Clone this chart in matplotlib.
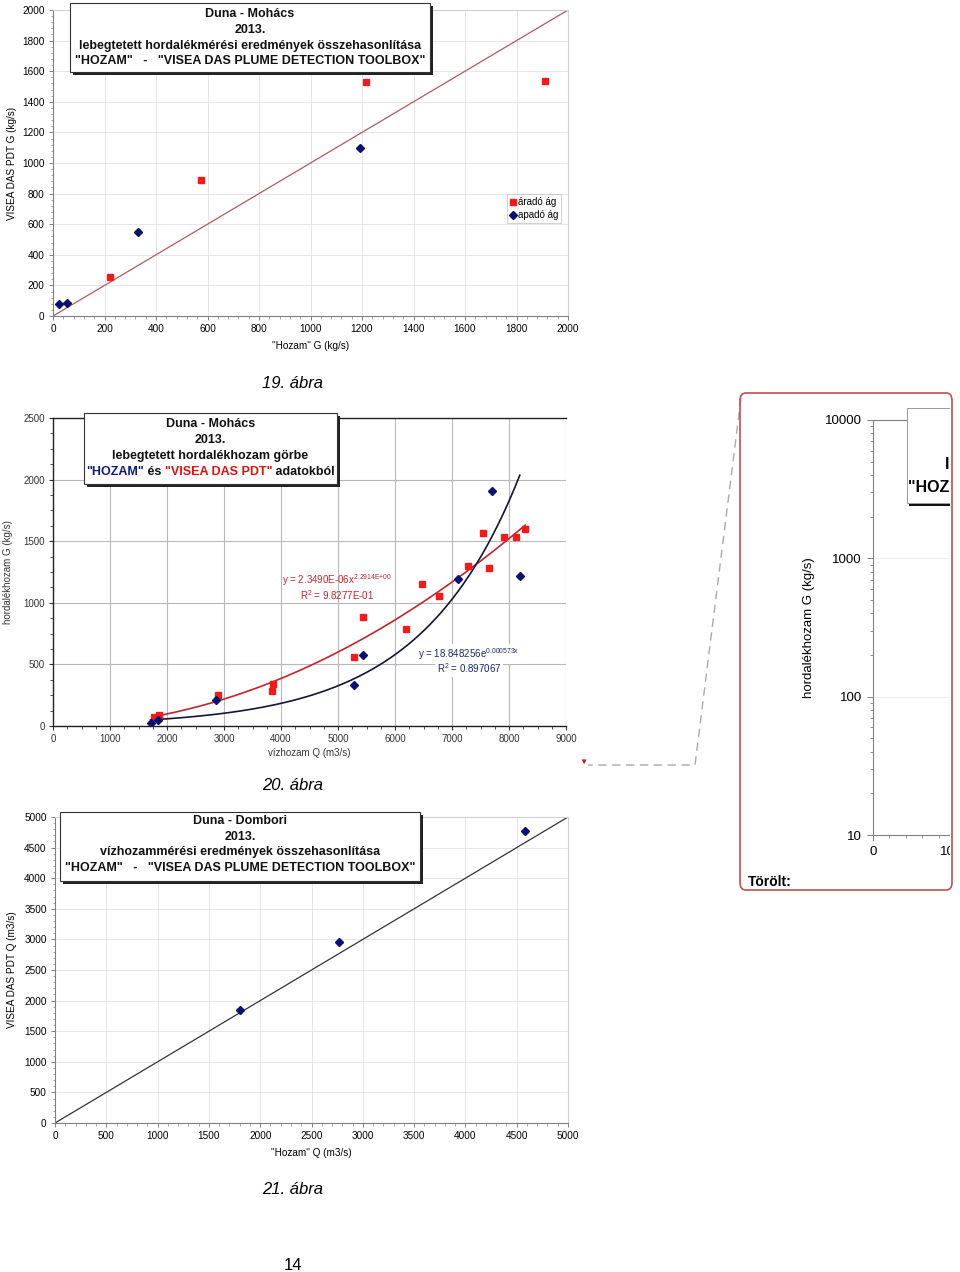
import numpy as np
import matplotlib
matplotlib.use('Agg')
import matplotlib.pyplot as plt
from matplotlib.patches import Rectangle, FancyBboxPatch
from matplotlib.lines import Line2D
from matplotlib.ticker import AutoMinorLocator, FixedLocator, LogLocator, NullFormatter
from matplotlib.offsetbox import TextArea, HPacker, AnnotationBbox

plt.rcParams['font.family'] = ['Liberation Sans', 'DejaVu Sans']
plt.rcParams['mathtext.fontset'] = 'custom'
plt.rcParams['mathtext.rm'] = 'Liberation Sans'
plt.rcParams['mathtext.it'] = 'Liberation Sans'
plt.rcParams['mathtext.default'] = 'regular'

# --- 19. ábra: Duna - Mohács, lebegtetett hordalék (kg/s)
mohacs_arado_hozam = [221, 574, 1217, 1909]
mohacs_arado_visea = [256, 886, 1531, 1533]
mohacs_apado_hozam = [22, 55, 332, 1194]
mohacs_apado_visea = [76, 83, 552, 1099]

# --- 20. ábra: hordalékhozam görbe, Q (m3/s) - G (kg/s)
gorbe_visea_q = [1770, 1863, 2893, 3857, 3844, 5284, 5436, 6195, 6473, 6770,
                 7272, 7536, 7649, 7913, 8124, 8283]
gorbe_visea_g = [73, 89, 251, 340, 284, 559, 886, 784, 1154, 1059,
                 1297, 1565, 1281, 1532, 1532, 1603]
gorbe_hozam_q = [1711, 1836, 2860, 5277, 5436, 7100, 7701, 8190]
gorbe_hozam_g = [24, 51, 214, 330, 573, 1192, 1908, 1216]

# --- 21. ábra: Duna - Dombori, vízhozam (m3/s)
dombori_hozam = [1805, 2770, 4582]
dombori_visea = [1848, 2951, 4766]

W, H = 960, 1272
fig = plt.figure(figsize=(W / 100, H / 100), dpi=100)

RED = '#ee1c1c'
NAVY = '#0a1070'
AXC = '#808080'


def add_ax(l, t, r, b):
    return fig.add_axes([l / W, 1 - b / H, (r - l) / W, (b - t) / H])


def fx(x):
    return x / W


def fy(y):
    return 1 - y / H


def title_box(l, t, r, b, lines, ys, size=9, shadow=3):
    fig.patches.append(Rectangle((fx(l + shadow), fy(b + shadow)), (r - l) / W, (b - t) / H,
                                 transform=fig.transFigure, facecolor='#222222',
                                 edgecolor='none', zorder=10))
    fig.patches.append(Rectangle((fx(l), fy(b)), (r - l) / W, (b - t) / H,
                                 transform=fig.transFigure, facecolor='white',
                                 edgecolor='#333333', lw=0.8, zorder=11))
    cx = (l + r) / 2
    for txt, y in zip(lines, ys):
        if isinstance(txt, list):
            parts = [TextArea(s, textprops=dict(color=c, fontsize=size, fontweight='bold'))
                     for s, c in txt]
            pack = HPacker(children=parts, sep=0, pad=0, align='baseline')
            ab = AnnotationBbox(pack, (fx(cx), fy(y)), xycoords='figure fraction',
                                frameon=False, box_alignment=(0.5, 0.5), pad=0)
            ab.set_zorder(12)
            fig.add_artist(ab)
        else:
            fig.text(fx(cx), fy(y), txt, ha='center', va='center', fontsize=size,
                     fontweight='bold', color='#111111', zorder=12)


def excel_axes(ax, xmax, ymax, xstep, ystep, grid='#e2e2e2', border='#cfcfcf'):
    ax.set_xlim(0, xmax)
    ax.set_ylim(0, ymax)
    ax.set_xticks(np.arange(0, xmax + 1, xstep))
    ax.set_yticks(np.arange(0, ymax + 1, ystep))
    ax.xaxis.set_minor_locator(AutoMinorLocator(5))
    ax.yaxis.set_minor_locator(AutoMinorLocator(5))
    ax.tick_params(which='major', length=3, width=0.7, color=AXC, labelsize=7.2, pad=3)
    ax.tick_params(which='minor', length=1.8, width=0.5, color=AXC)
    ax.grid(True, which='major', color=grid, lw=0.6)
    ax.set_axisbelow(True)
    for s in ['left', 'bottom']:
        ax.spines[s].set_color(AXC)
        ax.spines[s].set_linewidth(0.8)
    for s in ['top', 'right']:
        ax.spines[s].set_color(border)
        ax.spines[s].set_linewidth(0.8)


# ---------------- 19. ábra
ax1 = add_ax(53, 10, 568, 316)
excel_axes(ax1, 2000, 2000, 200, 200)
ax1.plot([0, 2000], [0, 2000], color='#b25a5e', lw=0.9, zorder=2)
ax1.plot(mohacs_arado_hozam, mohacs_arado_visea, 's', color=RED, ms=5, zorder=3,
         label='áradó ág')
ax1.plot(mohacs_apado_hozam, mohacs_apado_visea, 'D', color=NAVY, ms=4, zorder=3,
         label='apadó ág')
ax1.set_xlabel('"Hozam" G (kg/s)', fontsize=7.2, labelpad=5)
ax1.set_ylabel('VISEA DAS PDT G (kg/s)', fontsize=7.2)
ax1.yaxis.set_label_coords((17 - 53) / 515, 0.5)
leg = ax1.legend(loc='upper left', bbox_to_anchor=((507 - 53) / 515, 1 - (194 - 10) / 306),
                 fontsize=7, frameon=True, fancybox=False, handlelength=0.6,
                 handletextpad=0.25, borderpad=0.3, labelspacing=0.35, borderaxespad=0)
leg.get_frame().set_edgecolor('#bbbbbb')
leg.get_frame().set_linewidth(0.6)
title_box(70, 3, 430, 72,
          ['Duna - Mohács', '2013.', 'lebegtetett hordalékmérési eredmények összehasonlítása',
           '"HOZAM"   -   "VISEA DAS PLUME DETECTION TOOLBOX"'],
          [14, 30, 45.5, 61])
fig.text(fx(293), fy(383), '19. ábra', ha='center', va='center', fontsize=12, style='italic')

# ---------------- 20. ábra
ax2 = add_ax(53, 418, 566, 726)
ax2.set_xlim(0, 9000)
ax2.set_ylim(0, 2500)
ax2.set_xticks(np.arange(0, 9001, 1000))
ax2.set_yticks(np.arange(0, 2501, 500))
ax2.xaxis.set_minor_locator(AutoMinorLocator(4))
ax2.yaxis.set_minor_locator(AutoMinorLocator(4))
ax2.tick_params(which='major', length=3, width=0.8, color='#333333', labelsize=7,
                labelcolor='#333333', pad=3)
ax2.tick_params(which='minor', length=2, width=0.6, color='#333333')
ax2.grid(True, which='major', color='#b8b8b8', lw=0.8)
ax2.set_axisbelow(True)
for s in ['left', 'bottom', 'top']:
    ax2.spines[s].set_color('#222222')
    ax2.spines[s].set_linewidth(1.0)
ax2.spines['right'].set_visible(False)

# trendlines fitted from the data (power for VISEA, exponential for HOZAM)
vq = np.array(gorbe_visea_q, float)
vg = np.array(gorbe_visea_g, float)
b_pow, a_pow = np.polyfit(np.log(vq), np.log(vg), 1)
xr = np.linspace(vq.min(), vq.max(), 200)
ax2.plot(xr, np.exp(a_pow) * xr ** b_pow, color='#c0262c', lw=1.2, zorder=2)
hq = np.array(gorbe_hozam_q, float)
hg = np.array(gorbe_hozam_g, float)
b_exp, a_exp = np.polyfit(hq, np.log(hg), 1)
xb = np.linspace(hq.min(), hq.max(), 200)
ax2.plot(xb, np.exp(a_exp) * np.exp(b_exp * xb), color='#151535', lw=1.2, zorder=2)

ax2.plot(gorbe_visea_q, gorbe_visea_g, 's', color=RED, ms=5, zorder=3)
ax2.plot(gorbe_hozam_q, gorbe_hozam_g, 'D', color=NAVY, ms=3.8, zorder=3)
ax2.text(4980, 1185, 'y = 2.3490E-06x$^{2.2914E{+}00}$', fontsize=7, color='#c0262c',
         ha='center', va='center', zorder=4)
ax2.text(4980, 1063, 'R$^2$ = 9.8277E-01', fontsize=7, color='#c0262c',
         ha='center', va='center', zorder=4)
ax2.text(7300, 585, 'y = 18.848256e$^{0.000573x}$', fontsize=7, color='#1a2a6a',
         ha='center', va='center', zorder=4,
         bbox=dict(facecolor='white', edgecolor='none', pad=1.5))
ax2.text(7300, 473, 'R$^2$ = 0.897067', fontsize=7, color='#1a2a6a',
         ha='center', va='center', zorder=4,
         bbox=dict(facecolor='white', edgecolor='none', pad=1.5))
ax2.set_xlabel('vízhozam Q (m3/s)', fontsize=7, labelpad=3, color='#333333')
ax2.set_ylabel('hordalékhozam G (kg/s)', fontsize=7, color='#333333')
ax2.yaxis.set_label_coords((13 - 53) / 513, 0.5)
title_box(84, 413, 337, 484,
          ['Duna - Mohács', '2013.', 'lebegtetett hordalékhozam görbe',
           [('"HOZAM"', '#0c1a7a'), (' és ', '#111111'), ('"VISEA DAS PDT"', '#e01010'),
            (' adatokból', '#111111')]],
          [424, 440, 456, 472])
fig.text(fx(293), fy(785), '20. ábra', ha='center', va='center', fontsize=12, style='italic')

# ---------------- 21. ábra
ax3 = add_ax(55, 817, 568, 1123)
excel_axes(ax3, 5000, 5000, 500, 500)
ax3.plot([0, 5000], [0, 5000], color='#333333', lw=0.9, zorder=2)
ax3.plot(dombori_hozam, dombori_visea, 'D', color=NAVY, ms=4, zorder=3)
ax3.set_xlabel('"Hozam" Q (m3/s)', fontsize=7.2, labelpad=5)
ax3.set_ylabel('VISEA DAS PDT Q (m3/s)', fontsize=7.2)
ax3.yaxis.set_label_coords((17 - 55) / 513, 0.5)
title_box(60, 812, 420, 881,
          ['Duna - Dombori', '2013.', 'vízhozammérési eredmények összehasonlítása',
           '"HOZAM"   -   "VISEA DAS PLUME DETECTION TOOLBOX"'],
          [821.5, 837, 852.5, 868])
fig.text(fx(293), fy(1190), '21. ábra', ha='center', va='center', fontsize=12, style='italic')

fig.text(fx(293), fy(1265), '14', ha='center', va='center', fontsize=12)

# ---------------- deleted comment balloon (right side)
ax4 = add_ax(873, 420, 1037, 835)
ax4.set_yscale('log')
ax4.set_ylim(10, 10000)
ax4.set_xlim(0, 2000)
ax4.set_xticks([0, 1000])
ax4.set_yticks([10, 100, 1000, 10000])
ax4.set_yticklabels(['10', '100', '1000', '10000'])
ax4.yaxis.set_minor_locator(LogLocator(base=10, subs=np.arange(2, 10)))
ax4.yaxis.set_minor_formatter(NullFormatter())
ax4.xaxis.set_minor_locator(FixedLocator(np.arange(0, 2000, 200)))
ax4.tick_params(which='major', length=4, width=0.7, color=AXC, labelsize=9.5, pad=4)
ax4.tick_params(which='minor', length=2.5, width=0.6, color=AXC)
ax4.grid(True, axis='y', which='major', color='#eeeeee', lw=0.6)
ax4.spines['left'].set_color(AXC)
ax4.spines['bottom'].set_color(AXC)
ax4.spines['top'].set_color(AXC)
ax4.spines['right'].set_visible(False)
ax4.set_ylabel('hordalékhozam G (kg/s)', fontsize=9.5)
ax4.yaxis.set_label_coords((815 - 873) / 164, 0.5)
fig.patches.append(Rectangle((fx(909), fy(506)), 60 / W, 2.5 / H, transform=fig.transFigure,
                             facecolor='#111111', edgecolor='none', zorder=10))
fig.patches.append(Rectangle((fx(907), fy(503)), 70 / W, 95 / H, transform=fig.transFigure,
                             facecolor='white', edgecolor='#999999', lw=0.7, zorder=11))
fig.text(fx(945), fy(465), 'lebegtetett hordalékhozam', ha='left', va='center', fontsize=11.5,
         fontweight='bold', zorder=12)
fig.text(fx(908), fy(488), '"HOZAM" és "VISEA DAS PDT"', ha='left', va='center',
         fontsize=11.5, fontweight='bold', zorder=12)
# clip everything right of the balloon
fig.patches.append(Rectangle((fx(950), 0), 20 / W, 1, transform=fig.transFigure,
                             facecolor='white', edgecolor='none', zorder=20))
fig.patches.append(FancyBboxPatch((fx(740), fy(890)), (952 - 740) / W, (890 - 393) / H,
                                  boxstyle='round,pad=0,rounding_size=0.006',
                                  transform=fig.transFigure, facecolor='none',
                                  edgecolor='#c0504d', lw=1.2, zorder=21))
fig.text(fx(748), fy(882), 'Törölt:', ha='left', va='center', fontsize=10,
         fontweight='bold', zorder=22)
fig.add_artist(Line2D([fx(741), fx(695), fx(695), fx(588)],
                      [fy(398), fy(765), fy(765), fy(765)],
                      transform=fig.transFigure, color='#aaaaaa', lw=1.0,
                      linestyle=(0, (6, 4)), zorder=5))
fig.text(fx(583), fy(762), '▼', ha='center', va='center', fontsize=6, color='#e01010')

fig.savefig('out.png', dpi=100)
